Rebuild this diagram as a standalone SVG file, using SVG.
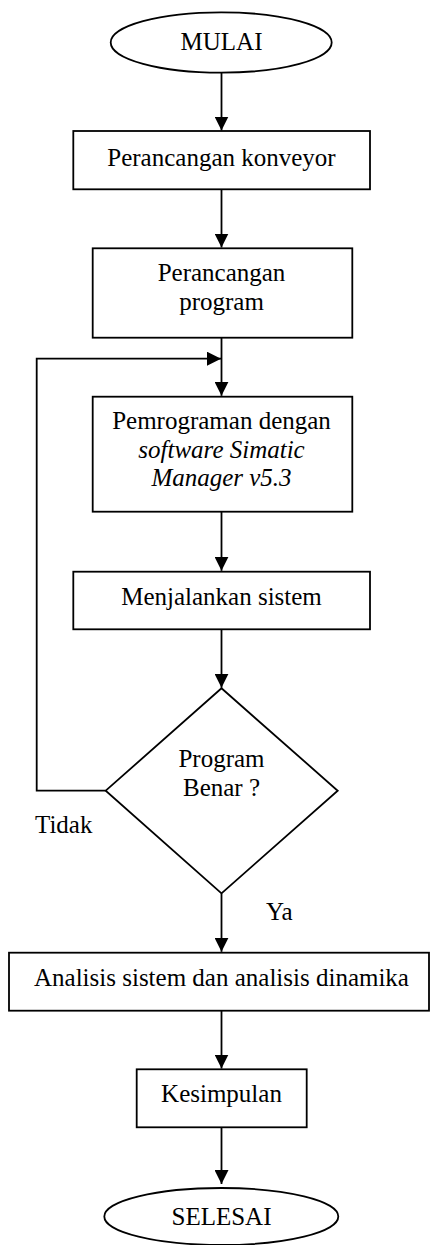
<svg xmlns="http://www.w3.org/2000/svg" width="430" height="1245" viewBox="0 0 430 1245">
  <style>
    .shape { fill: #ffffff; stroke: #000000; stroke-width: 1.8; }
    .line { fill: none; stroke: #000000; stroke-width: 1.8; }
    text { font-family: "Liberation Serif", "Times New Roman", serif; font-size: 25px; fill: #000000; }
    .c { text-anchor: middle; }
    .i { font-style: italic; }
  </style>
  <defs>
    <marker id="arrow" viewBox="0 0 14 14" refX="14" refY="7" markerWidth="14" markerHeight="14" markerUnits="userSpaceOnUse" orient="auto">
      <path d="M0,0 L14,7 L0,14 z" fill="#000000"/>
    </marker>
  </defs>

  <rect width="430" height="1245" fill="#ffffff"/>

  <!-- connectors -->
  <g id="connectors">
    <path class="line" d="M221.5,72.7 V130.5" marker-end="url(#arrow)"/>
    <path class="line" d="M221.5,189.3 V247.5" marker-end="url(#arrow)"/>
    <path class="line" d="M221.5,337.7 V395.8" marker-end="url(#arrow)"/>
    <path class="line" d="M105.7,790.7 H36.7 V358.7 H221" marker-end="url(#arrow)"/>
    <path class="line" d="M221.5,511.7 V570.8" marker-end="url(#arrow)"/>
    <path class="line" d="M221.5,629.3 V687.8" marker-end="url(#arrow)"/>
    <path class="line" d="M221.5,893.3 V951.8" marker-end="url(#arrow)"/>
    <path class="line" d="M221.5,1010.7 V1068.5" marker-end="url(#arrow)"/>
    <path class="line" d="M221.5,1127.3 V1184" marker-end="url(#arrow)"/>
  </g>

  <!-- nodes -->
  <g id="start">
    <ellipse class="shape" cx="221.2" cy="42.5" rx="110.5" ry="30.2"/>
    <text class="c" x="221.5" y="50">MULAI</text>
  </g>

  <g id="design-conveyor">
    <rect class="shape" x="73.3" y="131" width="296.7" height="58.3"/>
    <text class="c" x="221.5" y="166">Perancangan konveyor</text>
  </g>

  <g id="design-program">
    <rect class="shape" x="92.7" y="248.3" width="259.6" height="89.4"/>
    <text class="c" x="221.5" y="281">Perancangan</text>
    <text class="c" x="221.5" y="310">program</text>
  </g>

  <g id="programming">
    <rect class="shape" x="92.7" y="396.7" width="259.6" height="115"/>
    <text class="c" x="221.5" y="429">Pemrograman dengan</text>
    <text class="c i" x="221.5" y="457.5">software Simatic</text>
    <text class="c i" x="221.5" y="486">Manager v5.3</text>
  </g>

  <g id="run-system">
    <rect class="shape" x="73.3" y="571.7" width="296.7" height="57.6"/>
    <text class="c" x="221.5" y="604.5">Menjalankan sistem</text>
  </g>

  <g id="decision">
    <polygon class="shape" points="221.5,688.3 337.7,790.7 221.5,893.3 105.7,790.7"/>
    <text class="c" x="221.5" y="767">Program</text>
    <text class="c" x="221.5" y="796">Benar ?</text>
  </g>

  <g id="labels">
    <text x="35" y="833">Tidak</text>
    <text x="266" y="920">Ya</text>
  </g>

  <g id="analysis">
    <rect class="shape" x="9" y="952.7" width="420" height="58"/>
    <text class="c" x="221.5" y="986">Analisis sistem dan analisis dinamika</text>
  </g>

  <g id="conclusion">
    <rect class="shape" x="136.7" y="1069.3" width="170" height="58"/>
    <text class="c" x="221.5" y="1102">Kesimpulan</text>
  </g>

  <g id="end">
    <ellipse class="shape" cx="221.3" cy="1216.5" rx="117" ry="28.5"/>
    <text class="c" x="221.5" y="1225">SELESAI</text>
  </g>
</svg>
